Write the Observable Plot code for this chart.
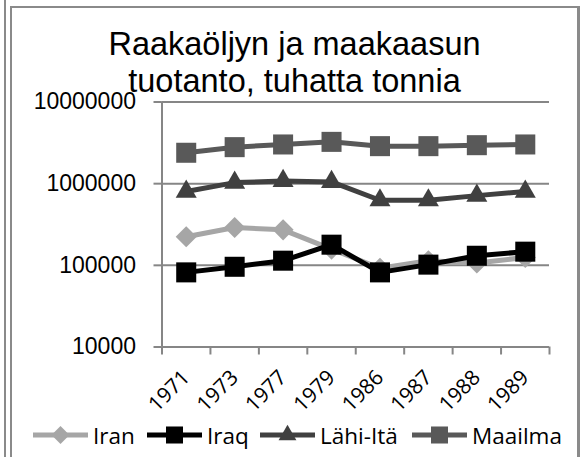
<!DOCTYPE html>
<html>
<head>
<meta charset="utf-8">
<script src="https://cdn.jsdelivr.net/npm/d3@7"></script>
<script src="https://cdn.jsdelivr.net/npm/@observablehq/plot@0.6"></script>
<style>
  html, body { margin: 0; padding: 0; background: #fff; }
  #page { position: relative; width: 580px; height: 457px; overflow: hidden; background: #fff; }
  #outerline { position: absolute; left: 4px; top: 0; width: 2px; height: 457px; background: #8a8a8a; }
  #box { position: absolute; left: 10px; top: 6px; width: 565px; height: 470px;
         border-left: 2px solid #8a8a8a; border-top: 2px solid #8a8a8a; border-right: 3px solid #8a8a8a; }
  #title { position: absolute; left: 12px; width: 565px; top: 26px; text-align: center;
           font-family: "Liberation Sans", Arial, sans-serif; font-size: 32.5px; line-height: 37px; color: #000; }
  #chart { position: absolute; left: 0; top: 0; }
  #legend { position: absolute; left: 0; top: 423px; width: 580px; height: 24px;
            font-family: "Open Sans", sans-serif; font-size: 22.5px; color: #000; }
  .item { position: absolute; top: 0; height: 24px; display: flex; align-items: center; white-space: nowrap; }
  .item svg { margin-right: 5px; }
</style>
</head>
<body>
<div id="page">
  <div id="outerline"></div>
  <div id="box"></div>
  <div id="chart"></div>
  <div id="title">Raakaöljyn ja maakaasun<br>tuotanto, tuhatta tonnia</div>
  <div id="legend"></div>
</div>
<script>
// ---- data ----
const years = ["1971", "1973", "1977", "1979", "1986", "1987", "1988", "1989"];
const iran    = [224000, 290000, 272000, 158000, 92000, 114000, 107000, 125000];
const iraq    = [82000, 96000, 114000, 179000, 82000, 102000, 131000, 147000];
const lahiIta = [800000, 1030000, 1080000, 1050000, 626000, 626000, 714000, 800000];
const maailma = [2390000, 2800000, 3020000, 3250000, 2880000, 2880000, 2960000, 3020000];
const seriesNames = ["Iran", "Iraq", "Lähi-Itä", "Maailma"];
const seriesValues = [iran, iraq, lahiIta, maailma];
const colors = ["#a6a6a6", "#000000", "#404040", "#595959"];
const symbols = ["diamond2", "square", "triangle", "square"];
const radii = [9.5, 11.3, 7.8, 11.3];
const yTicks = [10000, 100000, 1000000, 10000000];

const grid = "#868686";

const seriesData = seriesNames.map((name, k) =>
  years.map((yr, i) => ({ series: name, i, year: yr, value: seriesValues[k][i] }))
);

const seriesMarks = [];
seriesData.forEach((d, k) => {
  seriesMarks.push(Plot.line(d, { x: "i", y: "value", stroke: colors[k], strokeWidth: 5, strokeLinejoin: "round" }));
  seriesMarks.push(Plot.dot(d, { x: "i", y: "value", fill: colors[k], stroke: "none", symbol: symbols[k], r: radii[k] }));
});

const chart = Plot.plot({
  width: 580,
  height: 457,
  marginLeft: 161.5,
  marginRight: 31,
  marginTop: 101.5,
  marginBottom: 110.5,
  style: { background: "transparent", overflow: "visible" },
  x: { type: "linear", domain: [-0.5, years.length - 0.5], label: null },
  y: { type: "log", domain: [10000, 10000000], label: null },
  marks: [
    Plot.ruleY(yTicks, { stroke: grid, strokeWidth: 2 }),
    Plot.ruleX([-0.5], { stroke: grid, strokeWidth: 2 }),
    Plot.axisY({ ticks: yTicks, tickFormat: d3.format("d"), tickSize: 8, tickPadding: 18, label: null,
                 stroke: grid, strokeWidth: 2, fill: "#000", fontSize: 23 }),
    Plot.axisX({ ticks: d3.range(-0.5, years.length, 1), tickFormat: () => "", tickSize: 8, label: null,
                 stroke: grid, strokeWidth: 2 }),
    Plot.axisX({ ticks: d3.range(years.length), tickFormat: (i) => years[i], tickSize: 0, tickPadding: 27,
                 tickRotate: -45, fill: "#000", fontSize: 21, label: null }),
    ...seriesMarks
  ]
});
document.getElementById("chart").appendChild(chart);

// fonts for tick labels
d3.select(chart).selectAll("text")
  .filter(function () { return years.includes(this.textContent); })
  .style("font-family", "'Open Sans', sans-serif").style("font-size", "21px");
d3.select(chart).selectAll("text")
  .filter(function () { return yTicks.map(String).includes(this.textContent); })
  .style("font-family", "'Liberation Sans', Arial, sans-serif").style("font-size", "23px");

// ---- legend ----
const legendLeft = [33, 147, 260, 412];
const legend = d3.select("#legend");
const symMap = { diamond2: d3.symbolDiamond2, square: d3.symbolSquare, triangle: d3.symbolTriangle };
seriesNames.forEach((name, k) => {
  const item = legend.append("div").attr("class", "item").style("left", legendLeft[k] + "px");
  const svg = item.append("svg").attr("width", 55).attr("height", 24);
  svg.append("line").attr("x1", 0).attr("x2", 55).attr("y1", 12).attr("y2", 12)
    .attr("stroke", colors[k]).attr("stroke-width", 5);
  const r = radii[k] * 0.85;
  svg.append("path").attr("transform", "translate(27.5,12)")
    .attr("d", d3.symbol(symMap[symbols[k]], Math.PI * r * r)())
    .attr("fill", colors[k]);
  item.append("span").text(name);
});
</script>
</body>
</html>
